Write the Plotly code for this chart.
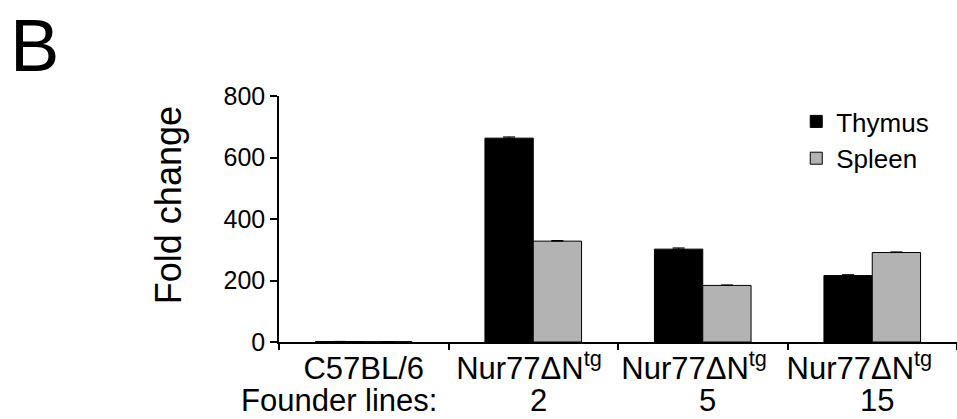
import plotly.graph_objects as go

categories = ["C57BL/6", "Nur77ΔN<sup>tg</sup> ", "Nur77ΔN<sup>tg</sup>  ", "Nur77ΔN<sup>tg</sup>   "]
founder_lines = ["2", "5", "15"]
thymus = [1.5, 663, 302, 216]
thymus_err = [0.5, 4, 4, 3]
spleen = [1.0, 328, 184, 291]
spleen_err = [0.3, 2, 1.5, 2]
y_ticks = [0, 200, 400, 600, 800]

FONT = "Arial, Liberation Sans, Helvetica, sans-serif"

fig = go.Figure()
fig.add_trace(go.Bar(
    name="Thymus", x=categories, y=thymus,
    marker=dict(color="#000000", line=dict(color="#000000", width=1)),
    error_y=dict(type="data", array=thymus_err, color="#000000", thickness=1, width=6, symmetric=False, arrayminus=[0]*4),
))
fig.add_trace(go.Bar(
    name="Spleen", x=categories, y=spleen,
    marker=dict(color="#b3b3b3", line=dict(color="#000000", width=1)),
    error_y=dict(type="data", array=spleen_err, color="#000000", thickness=1, width=6, symmetric=False, arrayminus=[0]*4),
))

row2_y = -(419 - 342) / 246
annotations = [
    dict(text="B", xref="paper", yref="paper", x=(8 - 279) / 679, y=(342 - 2) / 246,
         xanchor="left", yanchor="top", showarrow=False, font=dict(size=74, color="#000", family=FONT)),
    dict(text="Fold change", xref="paper", yref="paper", x=(168 - 279) / 679, y=(342 - 205) / 246,
         xanchor="center", yanchor="middle", textangle=-90, showarrow=False,
         font=dict(size=36, color="#000", family=FONT)),
    dict(text="Founder lines:", xref="paper", yref="paper", x=(339 - 279) / 679, y=row2_y,
         xanchor="center", yanchor="bottom", showarrow=False, borderpad=0,
         font=dict(size=31, color="#000", family=FONT)),
]
for i, lab in enumerate(founder_lines):
    annotations.append(dict(text=lab, xref="x", yref="paper", x=categories[i + 1], y=row2_y,
                            xanchor="center", yanchor="bottom", showarrow=False, xshift=5, borderpad=0,
                            font=dict(size=31, color="#000", family=FONT)))

fig.update_layout(
    width=957, height=419,
    margin=dict(l=279, r=0, t=96, b=77, autoexpand=False),
    paper_bgcolor="white", plot_bgcolor="white",
    barmode="group", bargap=0.43, bargroupgap=0,
    font=dict(family=FONT, color="#000"),
    showlegend=True,
    legend=dict(x=(797 - 279) / 679, y=(342 - 98) / 246, xanchor="left", yanchor="top",
                font=dict(size=26, family=FONT, color="#000"), bgcolor="rgba(0,0,0,0)",
                tracegroupgap=0),
    annotations=annotations,
    xaxis=dict(
        type="category", range=[-0.5, 3.5], showline=True, linecolor="#000", linewidth=1.5,
        ticks="outside", tickson="boundaries", ticklen=6, tickcolor="#000", tickwidth=1.5,
        tickangle=0, automargin=False, ticklabelstandoff=-2,
        tickfont=dict(size=31, family=FONT, color="#000"), showgrid=False, zeroline=False,
    ),
    yaxis=dict(
        range=[0, 800], tickvals=y_ticks, showline=True, linecolor="#000", linewidth=1.5,
        ticks="outside", ticklen=7, tickcolor="#000", tickwidth=1.5, automargin=False,
        tickfont=dict(size=25, family=FONT, color="#000"), showgrid=False, zeroline=False,
    ),
)

fig.write_html(
    "out.html",
    config={"displayModeBar": False},
    post_script="document.body.style.margin='0';document.body.style.overflow='hidden';",
)
